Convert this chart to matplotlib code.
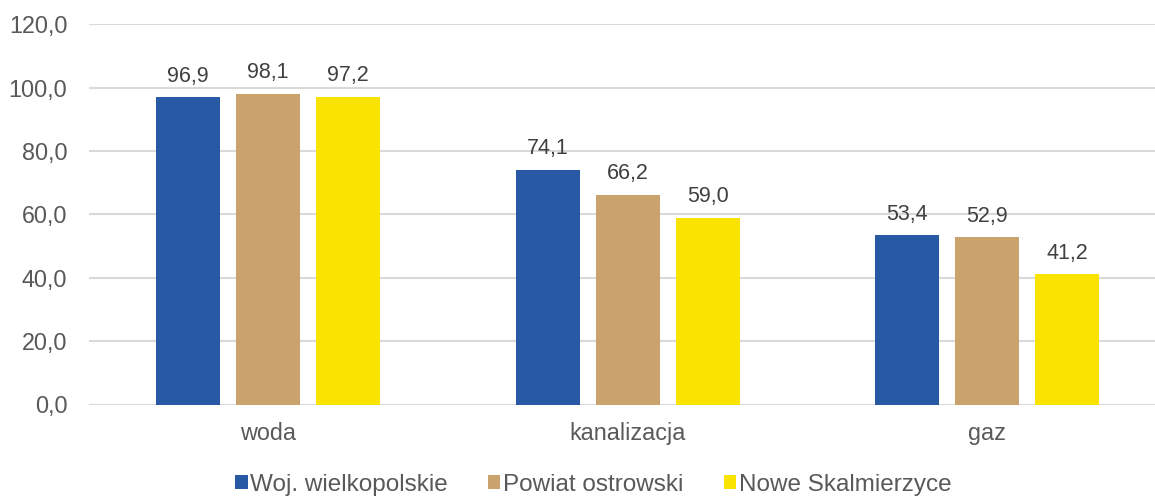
import numpy as np
import matplotlib.pyplot as plt
from matplotlib.patches import Patch

plt.rcParams['font.family'] = ['Liberation Sans', 'DejaVu Sans']

categories = ["woda", "kanalizacja", "gaz"]
series_names = ["Woj. wielkopolskie", "Powiat ostrowski", "Nowe Skalmierzyce"]
woj = [96.9, 74.1, 53.4]
powiat = [98.1, 66.2, 52.9]
gmina = [97.2, 59.0, 41.2]
y_ticks = [0, 20, 40, 60, 80, 100, 120]

colors = ["#2759A5", "#C9A26E", "#FAE300"]
text_color = "#595959"

fig = plt.figure(figsize=(11.55, 4.96), dpi=100)
ax = fig.add_axes([89 / 1155, 1 - 404.5 / 496, 1 - 89 / 1155, (404.5 - 24.3) / 496])

x = np.arange(len(categories))
step = 0.2225
width = 0.178
for i, (vals, col) in enumerate(zip([woj, powiat, gmina], colors)):
    pos = x + (i - 1) * step
    ax.bar(pos, vals, width=width, color=col, zorder=3)
    for px, v in zip(pos, vals):
        ax.annotate(f"{v:.1f}".replace(".", ","), (px, v),
                    xytext=(0, 11), textcoords="offset points",
                    ha="center", va="baseline", fontsize=15.5, color="#404040")

ax.set_ylim(0, 120)
ax.set_xlim(-0.498, 2.467)
ax.set_yticks(y_ticks)
ax.set_yticklabels([f"{t:.1f}".replace(".", ",") for t in y_ticks])
ax.set_xticks(x)
ax.set_xticklabels(categories)
ax.tick_params(axis="both", length=0, labelsize=16.8, colors=text_color)
ax.tick_params(axis="y", pad=15.5)
ax.tick_params(axis="x", pad=12.5)
ax.yaxis.grid(True, color="#D9D9D9", linewidth=1.5, zorder=0)
for s in ax.spines.values():
    s.set_visible(False)

handles = [Patch(facecolor=c, edgecolor="none") for c in colors]
fig.legend(handles, series_names, loc="center", ncol=3,
           bbox_to_anchor=(593.5 / 1155, 1 - 485 / 496), frameon=False,
           fontsize=17.5, labelcolor=text_color, handlelength=0.5,
           handleheight=0.5, handletextpad=0.12, columnspacing=1.65,
           borderpad=0)

fig.savefig("out.png", dpi=100)
